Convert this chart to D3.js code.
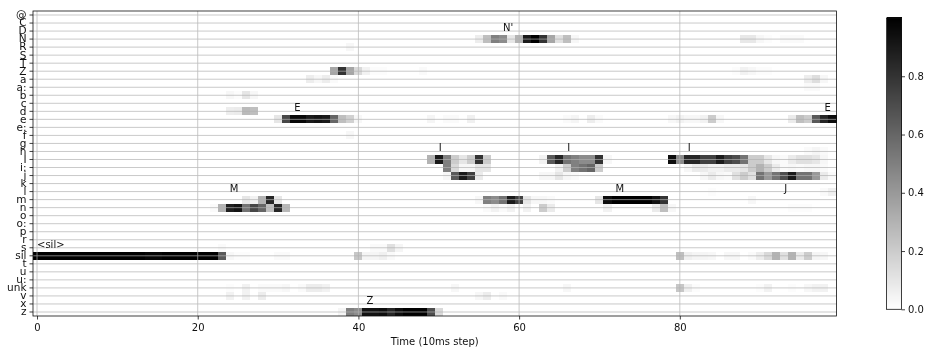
<!DOCTYPE html>
<html>
<head>
<meta charset="utf-8">
<script src="https://cdn.jsdelivr.net/npm/d3@7"></script>
<style>
  html, body { margin: 0; padding: 0; background: #fff; }
  svg { display: block; will-change: transform; }
  text { font-family: "DejaVu Sans", sans-serif; fill: #111; }
</style>
</head>
<body>
<svg id="chart" width="931" height="354"></svg>
<script>
const phones = ['@','C','D','N','R','S','T','Z','a','a:','b','c','d','e','e:','f','g','h','I','i:','j','k','l','m','n','o','o:','p','r','s','sil','t','u','u:','unk','v','x','z'];
const timeTicks = [0, 20, 40, 60, 80];
const colorTicks = [0, 0.2, 0.4, 0.6, 0.8];

// [frame, probability] pairs, only the frames that show anything
const rowN = [[55,.07],[56,.25],[57,.5],[58,.45],[59,.1],[60,.3],[61,.9],[62,1],[63,.8],[64,.35],[65,.12],[66,.25],[67,.03],[88,.09],[89,.09],[90,.03],[91,.01],[93,.02],[94,.02],[95,.02]];
const rowR = [[39,.03]];
const rowZ = [[37,.35],[38,.8],[39,.35],[40,.15],[41,.05],[42,.01],[43,.01],[48,.02],[87,.01],[88,.05],[89,.03],[90,.01],[91,.01]];
const rowA = [[34,.07],[35,.03],[36,.07],[37,.02],[96,.07],[97,.13],[98,.03]];
const rowAa = [[96,.02],[97,.02]];
const rowB = [[24,.03],[25,.01],[26,.1],[27,.03]];
const rowD = [[24,.07],[25,.08],[26,.27],[27,.25]];
const rowE = [[30,.1],[31,.72],[32,.97],[33,.97],[34,.9],[35,.92],[36,.9],[37,.6],[38,.25],[39,.18],[40,.03],[49,.04],[51,.02],[52,.02],[54,.06],[66,.02],[67,.04],[69,.07],[70,.02],[79,.03],[80,.05],[81,.03],[82,.03],[83,.05],[84,.2],[85,.03],[94,.08],[95,.25],[96,.2],[97,.65],[98,.85],[99,.95]];
const rowF = [[39,.03]];
const rowH = [[96,.02],[97,.04],[98,.02]];
const rowI = [[49,.3],[50,.9],[51,.5],[52,.2],[53,.1],[54,.2],[55,.8],[56,.2],[63,.05],[64,.65],[65,.85],[66,.55],[67,.5],[68,.45],[69,.45],[70,.8],[71,.03],[79,.95],[80,.45],[81,.85],[82,.85],[83,.75],[84,.75],[85,.9],[86,.75],[87,.7],[88,.55],[89,.2],[90,.2],[91,.1],[92,.03],[93,.02],[94,.08],[95,.12],[96,.12],[97,.1],[98,.03]];
const rowIi = [[51,.5],[52,.15],[53,.03],[54,.03],[55,.1],[56,.1],[65,.05],[66,.2],[67,.5],[68,.55],[69,.6],[70,.2],[81,.03],[82,.08],[83,.08],[84,.05],[85,.05],[86,.08],[87,.08],[88,.1],[89,.2],[90,.3],[91,.2],[92,.08],[93,.02],[94,.03],[95,.02],[96,.03],[97,.03],[98,.02]];
const rowJ = [[51,.03],[52,.65],[53,.9],[54,.75],[55,.08],[63,.03],[64,.03],[65,.1],[66,.03],[67,.02],[83,.03],[84,.08],[85,.03],[86,.02],[87,.12],[88,.2],[89,.12],[90,.55],[91,.4],[92,.55],[93,.7],[94,.9],[95,.55],[96,.55],[97,.4],[98,.08],[99,.02]];
const rowL = [[84,.01],[98,.02],[99,.06]];
const rowM = [[26,.1],[27,.05],[28,.3],[29,.85],[30,.1],[55,.03],[56,.5],[57,.45],[58,.55],[59,.9],[60,.75],[61,.1],[62,.03],[63,.03],[64,.02],[70,.1],[71,.95],[72,1],[73,1],[74,1],[75,1],[76,1],[77,.93],[78,.8],[89,.03]];
const rowNn = [[22,.02],[23,.3],[24,.88],[25,.92],[26,.55],[27,.72],[28,.6],[29,.25],[30,.85],[31,.28],[56,.02],[57,.05],[58,.02],[59,.05],[61,.05],[63,.2],[64,.08],[71,.05],[77,.08],[78,.25],[79,.03],[94,.01],[95,.01],[96,.01]];
const rowS = [[23,.02],[42,.02],[43,.02],[44,.12],[45,.04]];
const rowSil = [[0,1],[1,1],[2,1],[3,1],[4,1],[5,1],[6,1],[7,1],[8,1],[9,1],[10,1],[11,1],[12,1],[13,1],[14,.98],[15,.98],[16,1],[17,1],[18,1],[19,1],[20,1],[21,1],[22,1],[23,.65],[24,.03],[25,.01],[26,.01],[30,.02],[31,.02],[40,.22],[41,.04],[42,.04],[43,.06],[44,.02],[80,.25],[81,.06],[82,.04],[83,.04],[84,.03],[86,.03],[87,.03],[89,.02],[90,.07],[91,.15],[92,.3],[93,.12],[94,.3],[95,.08],[96,.2],[97,.04],[98,.03]];
const rowUnk = [[24,.01],[26,.05],[28,.02],[29,.02],[30,.02],[31,.03],[33,.02],[34,.07],[35,.07],[36,.05],[52,.03],[66,.03],[80,.22],[81,.06],[82,.01],[90,.01],[91,.05],[94,.01],[96,.03],[97,.05],[98,.05]];
const rowV = [[24,.05],[26,.05],[28,.07],[55,.03],[56,.07],[58,.02]];
const rowZz = [[38,.04],[39,.5],[40,.45],[41,.93],[42,.93],[43,.95],[44,.85],[45,.95],[46,1],[47,1],[48,1],[49,.7],[50,.15]];

const rowTable = [['N',rowN],['R',rowR],['Z',rowZ],['a',rowA],['a:',rowAa],['b',rowB],['d',rowD],['e',rowE],['f',rowF],['h',rowH],['I',rowI],['i:',rowIi],['j',rowJ],['l',rowL],['m',rowM],['n',rowNn],['s',rowS],['sil',rowSil],['unk',rowUnk],['v',rowV],['z',rowZz]];

// frame, row the baseline sits on
const noteText = ['<sil>','M','E',"N'",'Z','I','I','M','I','J','E'];
const noteFrame = [0, 24, 32, 58, 41, 50, 66, 72, 81, 93, 98];
const noteRow = ['s','l','d','D','x','h','h','l','h','l','d'];

const svg = d3.select('#chart');
const x = d3.scaleLinear().domain([-0.5, 99.5]).range([33, 836.5]);
const y = d3.scaleBand().domain(phones).range([11, 316]);
const color = d3.scaleLinear().domain([0, 1]).range(['#ffffff', '#000000']);
const yMid = function (p) { return y(p) + y.bandwidth() / 2; };
const cellW = x(1) - x(0);

const cells = [];
rowTable.forEach(function (r) {
  r[1].forEach(function (c) { cells.push({ phone: r[0], frame: c[0], value: c[1] }); });
});

svg.append('g').selectAll('rect').data(cells).join('rect')
  .attr('x', function (d) { return x(d.frame - 0.5); })
  .attr('y', function (d) { return y(d.phone); })
  .attr('width', cellW)
  .attr('height', y.bandwidth())
  .attr('fill', function (d) { return color(d.value); })
  .attr('shape-rendering', 'crispEdges');

// grid sits on top of the image
const grid = svg.append('g').attr('stroke', '#b0b0b0').attr('stroke-width', 0.8).attr('opacity', 0.85);
grid.selectAll('line.h').data(phones).join('line').attr('class', 'h')
  .attr('x1', x.range()[0]).attr('x2', x.range()[1])
  .attr('y1', yMid).attr('y2', yMid);
grid.selectAll('line.v').data(timeTicks).join('line').attr('class', 'v')
  .attr('x1', x).attr('x2', x)
  .attr('y1', y.range()[0]).attr('y2', y.range()[1]);

svg.append('rect')
  .attr('x', x.range()[0]).attr('y', y.range()[0])
  .attr('width', x.range()[1] - x.range()[0]).attr('height', y.range()[1] - y.range()[0])
  .attr('fill', 'none').attr('stroke', '#111').attr('stroke-width', 0.8);

const xAxis = svg.append('g').attr('transform', 'translate(0,' + y.range()[1] + ')')
  .call(d3.axisBottom(x).tickValues(timeTicks).tickSize(3.5).tickPadding(4).tickFormat(d3.format('d')));
const yAxis = svg.append('g').attr('transform', 'translate(' + x.range()[0] + ',0)')
  .call(d3.axisLeft(y).tickSize(3.5).tickPadding(3));
[xAxis, yAxis].forEach(function (a) {
  a.select('.domain').remove();
  a.selectAll('line').attr('stroke', '#111').attr('stroke-width', 0.8);
  a.selectAll('text').attr('fill', '#111').style('font-family', '"DejaVu Sans", sans-serif').style('font-size', '10px');
});
yAxis.selectAll('text').style('font-size', '10.5px');

svg.append('text').attr('x', x(49.5)).attr('y', 344.5).attr('text-anchor', 'middle')
  .style('font-size', '10px').text('Time (10ms step)');

svg.append('g').selectAll('text').data(noteText).join('text')
  .attr('x', function (d, i) { return x(noteFrame[i]); })
  .attr('y', function (d, i) { return yMid(noteRow[i]); })
  .style('font-size', '10px')
  .text(function (d) { return d; });

// colorbar
const barY = d3.scaleLinear().domain([0, 1]).range([309.3, 18]);
const barSteps = d3.range(0, 256).map(function (i) { return i / 255; });
svg.append('g').selectAll('rect').data(barSteps).join('rect')
  .attr('x', 886.5).attr('width', 15)
  .attr('y', function (d) { return barY(d) - 1.14; })
  .attr('height', 1.8)
  .attr('fill', color)
  .attr('shape-rendering', 'crispEdges');
svg.append('rect').attr('x', 886.5).attr('y', 18).attr('width', 15).attr('height', 291.3)
  .attr('fill', 'none').attr('stroke', '#111').attr('stroke-width', 0.8);
const barAxis = svg.append('g').attr('transform', 'translate(901.5,0)')
  .call(d3.axisRight(barY).tickValues(colorTicks).tickSize(3.5).tickPadding(3).tickFormat(d3.format('.1f')));
barAxis.select('.domain').remove();
barAxis.selectAll('line').attr('stroke', '#111').attr('stroke-width', 0.8);
barAxis.selectAll('text').attr('fill', '#111').style('font-family', '"DejaVu Sans", sans-serif').style('font-size', '10px');
</script>
</body>
</html>
